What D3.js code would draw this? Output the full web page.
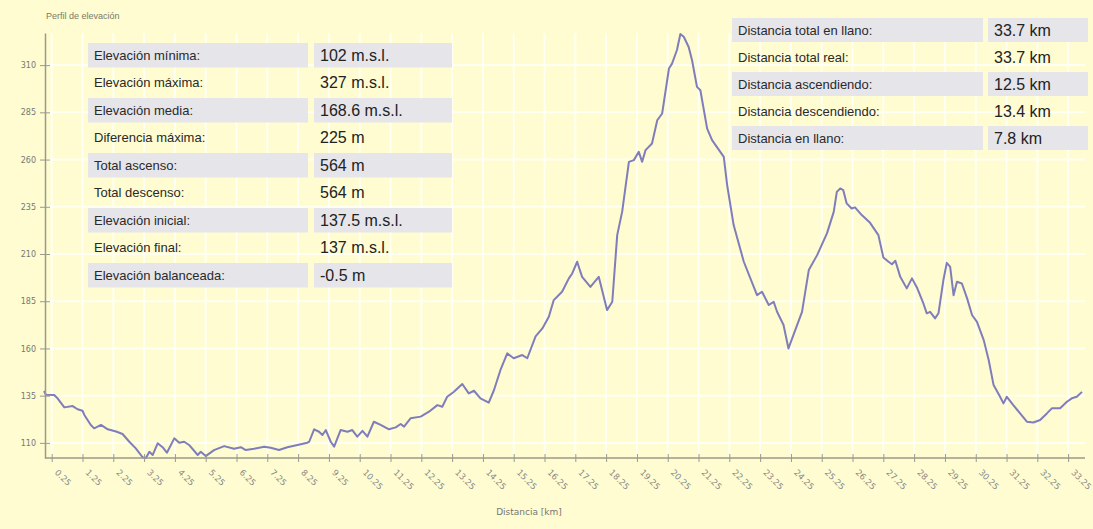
<!DOCTYPE html>
<html>
<head>
<meta charset="utf-8">
<script src="https://cdn.jsdelivr.net/npm/d3@7"></script>
<style>
  body { margin: 0; background: #fefcd0; }
  svg { display: block; font-family: "Liberation Sans", Arial, sans-serif; }
</style>
</head>
<body>
<div id="chart"></div>
<script>
const dist = [0, 0.06, 0.33, 0.44, 0.66, 0.93, 1.09, 1.25, 1.31, 1.52, 1.63, 1.85, 2.07, 2.34, 2.55, 2.77, 2.98, 3.2, 3.31, 3.42, 3.53,
    3.69, 3.85, 3.99, 4.23, 4.39, 4.55, 4.71, 4.99, 5.09, 5.25, 5.52, 5.85, 6.17, 6.39, 6.55, 6.82, 7.15, 7.36, 7.63, 7.9,
    8.23, 8.55, 8.61, 8.77, 8.93, 9.04, 9.15, 9.31, 9.42, 9.63, 9.85, 10.01, 10.17, 10.34, 10.5, 10.71, 10.93, 11.2, 11.42,
    11.58, 11.69, 11.9, 12.23, 12.5, 12.77, 12.93, 13.09, 13.31, 13.58, 13.79, 13.96, 14.17, 14.44, 14.61, 14.82, 15.04,
    15.25, 15.53, 15.69, 15.96, 16.18, 16.39, 16.55, 16.82, 17.04, 17.15, 17.31, 17.47, 17.74, 18.01, 18.28, 18.45, 18.61,
    18.77, 18.99, 19.15, 19.31, 19.42, 19.53, 19.74, 19.91, 20.07, 20.29, 20.39, 20.55, 20.66, 20.77, 20.93, 21.04, 21.2,
    21.31, 21.53, 21.69, 22.07, 22.18, 22.39, 22.72, 23.15, 23.31, 23.53, 23.69, 23.8, 24.01, 24.17, 24.39, 24.61, 24.83,
    25.1, 25.42, 25.64, 25.74, 25.85, 25.95, 26.06, 26.22, 26.33, 26.55, 26.82, 27.09, 27.25, 27.42, 27.53, 27.64, 27.8,
    28.01, 28.18, 28.34, 28.55, 28.66, 28.77, 28.93, 29.04, 29.2, 29.31, 29.42, 29.53, 29.64, 29.8, 29.97, 30.13, 30.29,
    30.51, 30.67, 30.83, 31.04, 31.15, 31.26, 31.47, 31.69, 31.91, 32.12, 32.34, 32.56, 32.72, 32.99, 33.21, 33.37, 33.53, 33.7];
const elev = [137.5, 135.5, 135.3, 133.6, 128.8, 129.5, 127.8, 127, 124.8, 119.5, 117.7, 119.5, 117.2, 116, 114.7, 110.6, 107.1, 102.4, 102, 105.3, 103.6,
    109.8, 107.7, 104.8, 112.4, 110.1, 110.6, 108.9, 103.6, 105.3, 103, 106.2, 108.3, 106.9, 107.7, 106.2, 106.9, 108, 107.4, 106.2, 107.7,
    108.9, 110.1, 110.6, 117.2, 115.9, 114.2, 116.8, 110.6, 108, 116.8, 115.9, 116.8, 113.3, 116.4, 113.3, 121.2, 119.5, 117.2, 118.2,
    120, 118.6, 123, 123.9, 126.5, 130, 129.1, 134.4, 137.1, 141.2, 136.2, 137.6, 133.6, 131.3, 138, 148.6, 157.4,
    154.8, 156.5, 154.8, 166.4, 170.6, 176.8, 185.6, 190, 197.1, 199.7, 205.9, 197.9, 192.6, 197.9, 180.3, 184.7, 220,
    232.3, 258.8, 259.7, 264.1, 258.8, 265, 268.5, 280.8, 284.4, 308.2, 310.8, 318, 326.5, 325, 319.6, 312.6, 298.5,
    296.7, 276.4, 270.3, 261.4, 246.4, 225.3, 205.9, 188.2, 190, 183, 184.7, 179.4, 172.4, 160, 169.7, 179.4, 201.5,
    209.4, 220.9, 232.3, 242.9, 244.7, 243.8, 236.8, 234.1, 234.7, 230.6, 226.5, 220, 208.2, 205.9, 204.6, 206.4, 197.9,
    191.8, 197.1, 192.3, 183.8, 178.6, 179.4, 175.9, 178.6, 196.2, 205.3, 203.2, 188.2, 195.3, 194.4, 186.5, 177.7, 174.1,
    164.4, 153.9, 140.6, 134.4, 130.9, 134.4, 130, 125.6, 121.2, 120.8, 122.1, 125.6, 128.3, 128.3, 131.8, 133.6, 134.4, 137];

const yTicks = [110, 135, 160, 185, 210, 235, 260, 285, 310];
const xTicks = [0.25, 1.25, 2.25, 3.25, 4.25, 5.25, 6.25, 7.25, 8.25, 9.25, 10.25, 11.25, 12.25, 13.25, 14.25, 15.25, 16.25,
    17.25, 18.25, 19.25, 20.25, 21.25, 22.25, 23.25, 24.25, 25.25, 26.25, 27.25, 28.25, 29.25, 30.25, 31.25, 32.25, 33.25];

const elevLabels = ["Elevación mínima:", "Elevación máxima:", "Elevación media:", "Diferencia máxima:", "Total ascenso:",
    "Total descenso:", "Elevación inicial:", "Elevación final:", "Elevación balanceada:"];
const elevValues = ["102 m.s.l.", "327 m.s.l.", "168.6 m.s.l.", "225 m", "564 m", "564 m", "137.5 m.s.l.", "137 m.s.l.", "-0.5 m"];

const distLabels = ["Distancia total en llano:", "Distancia total real:", "Distancia ascendiendo:", "Distancia descendiendo:", "Distancia en llano:"];
const distValues = ["33.7 km", "33.7 km", "12.5 km", "13.4 km", "7.8 km"];

const width = 1093, height = 529;
const bg = "#fefcd0";

const svg = d3.select("#chart").append("svg")
    .attr("width", width)
    .attr("height", height);

svg.append("rect").attr("width", width).attr("height", height).attr("fill", bg);

const x = d3.scaleLinear().domain([0, 33.7]).range([44, 1082]);
const y = d3.scaleLinear().domain([102, 327]).range([458, 33]);

// rejilla (líneas claras)
svg.append("g").selectAll("line.gx")
    .data(xTicks).join("line")
    .attr("x1", d => x(d)).attr("x2", d => x(d))
    .attr("y1", 33).attr("y2", 458)
    .attr("stroke", "#fffff4").attr("stroke-width", 2);
svg.append("g").selectAll("line.gy")
    .data(yTicks).join("line")
    .attr("x1", 45).attr("x2", 1085)
    .attr("y1", d => y(d)).attr("y2", d => y(d))
    .attr("stroke", "#fffff4").attr("stroke-width", 2);

// título
svg.append("text")
    .attr("x", 46).attr("y", 19)
    .attr("font-size", "9px")
    .attr("fill", "#7a7a6a")
    .text("Perfil de elevación");

// tablas
function table(labels, values, x0, labelW, valX, valW, y0, step) {
    labels.forEach((lab, i) => {
        const ry = y0 + i * step;
        if (i % 2 === 0) {
            svg.append("rect").attr("x", x0).attr("y", ry).attr("width", labelW).attr("height", step - 3)
                .attr("fill", "#e5e5ea");
            svg.append("rect").attr("x", valX - 6).attr("y", ry).attr("width", valW + 6).attr("height", step - 3)
                .attr("fill", "#e5e5ea");
        }
        svg.append("text")
            .attr("x", x0 + 6).attr("y", ry + step / 2 + 3)
            .attr("font-size", "13px").attr("fill", "#2a2a2a")
            .text(lab);
        svg.append("text")
            .attr("x", valX).attr("y", ry + step / 2 + 4)
            .attr("font-size", "16px").attr("fill", "#222")
            .text(values[i]);
    });
}
table(elevLabels, elevValues, 88, 220, 320, 132, 43, 27.5);
table(distLabels, distValues, 732, 251, 994, 94, 18, 27);

// perfil
const line = d3.line()
    .x((d, i) => x(dist[i]))
    .y(d => y(d));

svg.append("path")
    .datum(elev)
    .attr("d", line)
    .attr("fill", "none")
    .attr("stroke", "#7f7dbb")
    .attr("stroke-width", 2)
    .attr("stroke-linejoin", "round");

// ejes
const axisColor = "#9a9a8a";
const yAxis = svg.append("g").attr("transform", "translate(45,0)")
    .call(d3.axisLeft(y).tickValues(yTicks).tickSize(5).tickSizeOuter(0));
yAxis.select(".domain").attr("stroke", axisColor).attr("stroke-width", 1.5);
yAxis.selectAll(".tick line").attr("stroke", axisColor).attr("x2", 5).attr("x1", -5);
yAxis.selectAll(".tick text").attr("x", -9).attr("font-size", "8px").attr("fill", "#777")
    .attr("font-family", "DejaVu Sans");

const xAxis = svg.append("g").attr("transform", "translate(0,458)")
    .call(d3.axisBottom(x).tickValues(xTicks).tickSize(4).tickSizeOuter(0));
xAxis.select(".domain").attr("d", "M45,0H1085").attr("stroke", axisColor).attr("stroke-width", 1.5);
xAxis.selectAll(".tick line").attr("stroke", axisColor).attr("y1", -4).attr("y2", 4);
xAxis.selectAll(".tick text")
    .text(d => d3.format(".2f")(d))
    .attr("font-size", "8.5px").attr("fill", "#888")
    .attr("font-family", "DejaVu Sans")
    .attr("text-anchor", "start")
    .attr("dy", null)
    .attr("transform", "translate(2,15) rotate(45)")
    .attr("y", 0).attr("x", 0);

svg.append("text")
    .attr("x", 529).attr("y", 515)
    .attr("text-anchor", "middle")
    .attr("font-size", "9px").attr("fill", "#777")
    .attr("font-family", "DejaVu Sans")
    .text("Distancia [km]");
</script>
</body>
</html>
